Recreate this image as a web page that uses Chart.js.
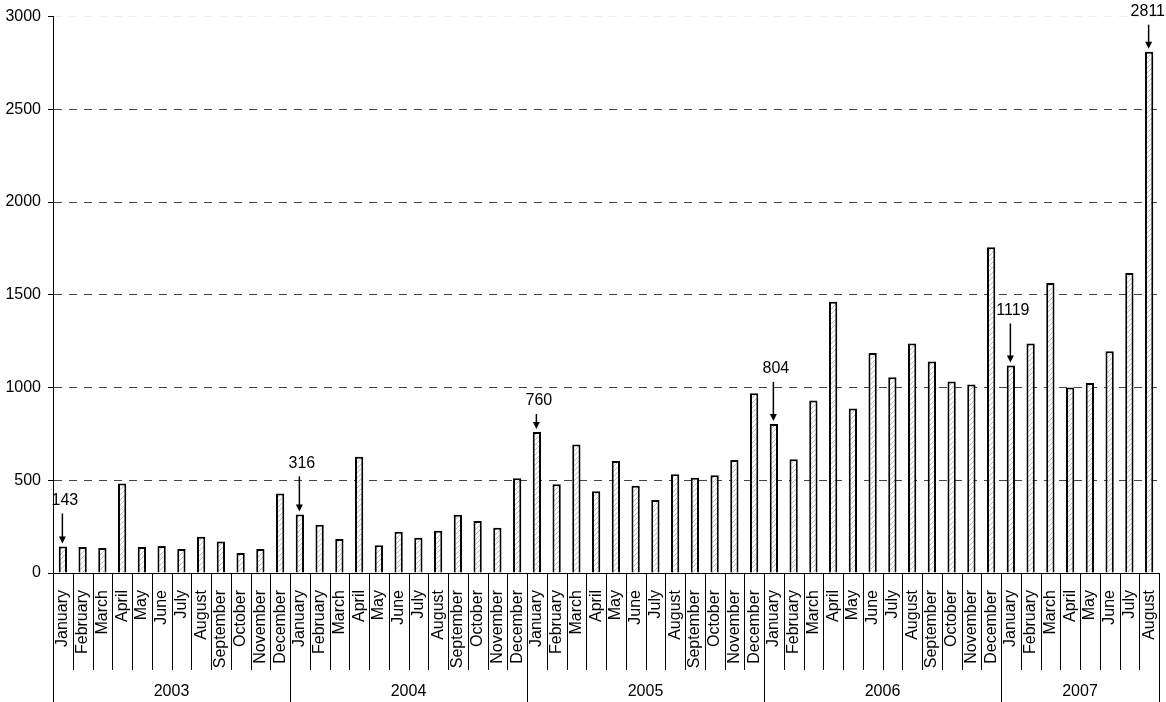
<!DOCTYPE html>
<html>
<head>
<meta charset="utf-8">
<script src="https://cdn.jsdelivr.net/npm/chart.js@4.4.1/dist/chart.umd.min.js"></script>
<style>
  html, body { margin: 0; padding: 0; background: #fff; }
  #wrap { width: 1166px; height: 702px; }
</style>
</head>
<body>
<div id="wrap"><canvas id="myChart"></canvas></div>
<script>
const monthNames = ['January', 'February', 'March', 'April', 'May', 'June', 'July',
    'August', 'September', 'October', 'November', 'December'];
const yearLabels = ['2003', '2004', '2005', '2006', '2007'];
const monthsInYear = [12, 12, 12, 12, 8];

const values2003 = [143, 140, 135, 482, 140, 145, 130, 195, 170, 108, 130, 428];
const values2004 = [316, 260, 183, 627, 149, 222, 190, 228, 314, 281, 244, 511];
const values2005 = [760, 478, 693, 441, 604, 470, 394, 532, 514, 527, 609, 969];
const values2006 = [804, 613, 930, 1462, 887, 1186, 1055, 1238, 1140, 1032, 1016, 1756];
const values2007 = [1119, 1237, 1563, 1000, 1024, 1195, 1617, 2811];

const yTicks = [0, 500, 1000, 1500, 2000, 2500, 3000];

// bars that get a value label with an arrow
const markedBars = [0, 12, 24, 36, 48, 55];
// how far above the bar top the label sits (px)
const markLift = [46, 51, 31, 55, 55, 40];

const labels = [];
monthsInYear.forEach(function (n) {
    for (let i = 0; i < n; i++) labels.push(monthNames[i]);
});
const values = [].concat(values2003, values2004, values2005, values2006, values2007);

const FONT = '"Liberation Sans", Arial, sans-serif';

// diagonal hatch fill
function hatch() {
    const c = document.createElement('canvas');
    c.width = 5; c.height = 5;
    const g = c.getContext('2d');
    g.fillStyle = '#fff';
    g.fillRect(0, 0, 5, 5);
    g.strokeStyle = '#bcbcbc';
    g.lineWidth = 1;
    g.beginPath();
    g.moveTo(-1, 6); g.lineTo(6, -1);
    g.moveTo(-1, 1); g.lineTo(1, -1);
    g.moveTo(4, 6); g.lineTo(6, 4);
    g.stroke();
    return g.createPattern(c, 'repeat');
}

const extras = {
    id: 'extras',
    afterDraw(chart) {
        const ctx = chart.ctx;
        const x = chart.scales.x;
        const y = chart.scales.y;
        const half = (x.getPixelForValue(1) - x.getPixelForValue(0)) / 2;
        const base = y.getPixelForValue(0);
        const H = chart.height;
        const W = chart.width;

        ctx.save();
        ctx.strokeStyle = '#000';
        ctx.lineWidth = 1;
        // month separators
        ctx.beginPath();
        for (let i = 0; i < labels.length; i++) {
            const px = Math.round(x.getPixelForValue(i) - half) + 0.5;
            ctx.moveTo(px, base);
            ctx.lineTo(px, x.bottom);
        }
        ctx.stroke();

        // year separators + year labels
        let start = 0;
        ctx.font = '16px ' + FONT;
        ctx.fillStyle = '#000';
        ctx.textAlign = 'center';
        ctx.textBaseline = 'middle';
        ctx.beginPath();
        for (let k = 0; k <= monthsInYear.length; k++) {
            const px = Math.round(x.getPixelForValue(start) - half) + 0.5;
            ctx.moveTo(px, base);
            ctx.lineTo(px, H);
            if (k < monthsInYear.length) {
                const end = start + monthsInYear[k];
                const cx = (x.getPixelForValue(start) + x.getPixelForValue(end - 1)) / 2;
                ctx.fillText(yearLabels[k], cx, H - 10);
                start = end;
            }
        }
        ctx.stroke();

        // value labels with arrows
        markedBars.forEach(function (idx, j) {
            const bx = x.getPixelForValue(idx);
            const top = y.getPixelForValue(values[idx]);
            const ty = top - markLift[j];
            const txt = String(values[idx]);
            const hw = ctx.measureText(txt).width / 2;
            const tx = Math.min(bx + 2, W - hw - 1);
            ctx.fillText(txt, tx, ty);
            const a0 = ty + 13;
            const a1 = top - 3;
            ctx.lineWidth = 1.5;
            ctx.beginPath();
            ctx.moveTo(bx - 0.5, a0);
            ctx.lineTo(bx - 0.5, a1 - 5);
            ctx.stroke();
            ctx.beginPath();
            ctx.moveTo(bx - 4, a1 - 7);
            ctx.lineTo(bx + 3, a1 - 7);
            ctx.lineTo(bx - 0.5, a1);
            ctx.closePath();
            ctx.fill();
        });
        ctx.restore();
    }
};

const ctx = document.getElementById('myChart');
const myChart = new Chart(ctx, {
    type: 'bar',
    data: {
        labels: labels,
        datasets: [{
            data: values,
            backgroundColor: hatch(),
            borderColor: '#000',
            borderWidth: 2,
            barPercentage: 0.42,
            categoryPercentage: 1
        }]
    },
    plugins: [extras],
    options: {
        responsive: true,
        maintainAspectRatio: false,
        animation: false,
        layout: { padding: { top: 8, right: 7, bottom: 32, left: 0 } },
        plugins: {
            legend: { display: false },
            tooltip: { enabled: false }
        },
        scales: {
            x: {
                afterFit: function (axis) {
                    axis.height = 97;
                    axis.paddingRight = 0;
                    axis.paddingLeft = 0;
                },
                grid: { display: false, drawTicks: false },
                border: { display: true, color: '#000', width: 1 },
                ticks: {
                    autoSkip: false,
                    maxRotation: 90,
                    minRotation: 90,
                    padding: 17,
                    color: '#000',
                    font: { family: FONT, size: 16 }
                }
            },
            y: {
                min: 0,
                max: 3000,
                afterFit: function (axis) {
                    axis.width = 53;
                },
                afterBuildTicks: function (axis) {
                    axis.ticks = yTicks.map(function (v) { return { value: v }; });
                },
                grid: {
                    color: function (c) {
                        return c.tick && c.tick.value === 3000 ? '#eeeeee' : '#444';
                    },
                    lineWidth: 1,
                    tickColor: '#000',
                    tickLength: 5,
                    tickBorderDash: []
                },
                border: { display: true, color: '#000', width: 1, dash: [8, 7] },
                ticks: {
                    padding: 7,
                    color: '#000',
                    font: { family: FONT, size: 16 },
                    callback: function (v) { return String(v); }
                }
            }
        }
    }
});
</script>
</body>
</html>
